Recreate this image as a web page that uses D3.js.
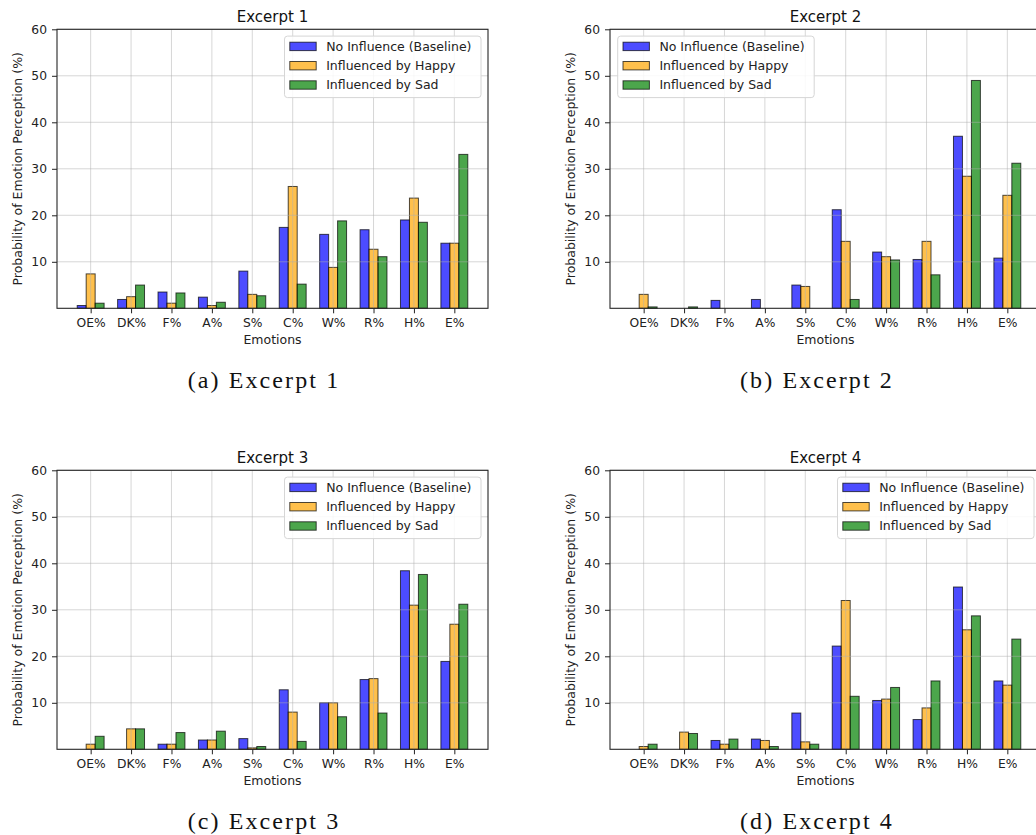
<!DOCTYPE html>
<html>
<head>
<meta charset="utf-8">
<script src="https://cdn.jsdelivr.net/npm/d3@7"></script>
<style>
  html, body { margin: 0; padding: 0; background: #fff; }
  svg { display: block; }
  .tick text { font-family: "DejaVu Sans", sans-serif; font-size: 12.3px; fill: #222; }
</style>
</head>
<body>
<svg id="fig" width="1036" height="835"></svg>
<script>
// Emotion categories on the x axis
const categories = ["OE%", "DK%", "F%", "A%", "S%", "C%", "W%", "R%", "H%", "E%"];
const seriesNames = ["No Influence (Baseline)", "Influenced by Happy", "Influenced by Sad"];
const yTicks = [10, 20, 30, 40, 50, 60];

// Excerpt 1
const ex1Baseline = [0.6, 1.9, 3.5, 2.4, 8.0, 17.4, 15.9, 16.9, 19.0, 14.0];
const ex1Happy    = [7.4, 2.5, 1.1, 0.6, 3.0, 26.2, 8.8, 12.7, 23.7, 14.0];
const ex1Sad      = [1.1, 5.0, 3.3, 1.3, 2.7, 5.2, 18.8, 11.1, 18.5, 33.1];

// Excerpt 2
const ex2Baseline = [0, 0, 1.7, 1.9, 5.0, 21.2, 12.1, 10.5, 37.0, 10.8];
const ex2Happy    = [3.0, 0, 0, 0, 4.7, 14.4, 11.1, 14.4, 28.4, 24.3];
const ex2Sad      = [0.3, 0.3, 0, 0, 0, 1.9, 10.4, 7.2, 49.0, 31.2];

// Excerpt 3
const ex3Baseline = [0, 0, 1.1, 2.0, 2.3, 12.8, 10.0, 15.0, 38.4, 18.9];
const ex3Happy    = [1.1, 4.4, 1.1, 2.0, 0.3, 8.0, 10.0, 15.2, 31.0, 26.9];
const ex3Sad      = [2.8, 4.4, 3.6, 3.9, 0.6, 1.7, 7.0, 7.8, 37.6, 31.2];

// Excerpt 4
const ex4Baseline = [0, 0, 1.9, 2.2, 7.8, 22.2, 10.5, 6.4, 34.9, 14.7];
const ex4Happy    = [0.6, 3.7, 1.1, 1.9, 1.6, 32.0, 10.8, 8.9, 25.7, 13.8];
const ex4Sad      = [1.1, 3.4, 2.2, 0.6, 1.1, 11.4, 13.3, 14.7, 28.7, 23.7];

const seriesColors = ["#0000ff", "#ffa500", "#008000"];

const panels = [
  { title: "Excerpt 1", caption: "(a) Excerpt 1", series: [ex1Baseline, ex1Happy, ex1Sad], left: 57,  top: 29.3,  legend: "right" },
  { title: "Excerpt 2", caption: "(b) Excerpt 2", series: [ex2Baseline, ex2Happy, ex2Sad], left: 610, top: 29.3,  legend: "left" },
  { title: "Excerpt 3", caption: "(c) Excerpt 3", series: [ex3Baseline, ex3Happy, ex3Sad], left: 57,  top: 470.3, legend: "right" },
  { title: "Excerpt 4", caption: "(d) Excerpt 4", series: [ex4Baseline, ex4Happy, ex4Sad], left: 610, top: 470.3, legend: "right" }
];

const plotW = 431, plotH = 279;
const barW = 0.222;
const font = '"DejaVu Sans", sans-serif';

const svg = d3.select("#fig");
svg.append("rect").attr("width", 1036).attr("height", 835).attr("fill", "#fff");

panels.forEach(p => {
  const g = svg.append("g").attr("transform", `translate(${p.left},${p.top})`);

  const x = d3.scaleLinear().domain([-0.833, categories.length - 1 + 0.833]).range([0, plotW]);
  const y = d3.scaleLinear().domain([0, 60]).range([plotH, 0]);

  // bars
  p.series.forEach((vals, s) => {
    g.append("g").selectAll("rect")
      .data(vals.map((v, i) => ({ v, i })).filter(d => d.v > 0))
      .join("rect")
      .attr("x", d => x(d.i + (s - 1) * barW - barW / 2))
      .attr("width", x(barW) - x(0))
      .attr("y", d => y(d.v))
      .attr("height", d => y(0) - y(d.v))
      .attr("fill", seriesColors[s])
      .attr("fill-opacity", 0.7)
      .attr("stroke", "#000")
      .attr("stroke-opacity", 0.7)
      .attr("stroke-width", 1);
  });

  // grid lines
  const grid = g.append("g").attr("stroke", "#b0b0b0").attr("stroke-opacity", 0.5).attr("stroke-width", 1);
  grid.selectAll("line.gx").data(d3.range(categories.length)).join("line")
    .attr("x1", d => x(d)).attr("x2", d => x(d)).attr("y1", 0).attr("y2", plotH);
  grid.selectAll("line.gy").data(yTicks).join("line")
    .attr("x1", 0).attr("x2", plotW).attr("y1", d => y(d)).attr("y2", d => y(d));

  // axes
  const yAxis = g.append("g")
    .call(d3.axisLeft(y).tickValues(yTicks).tickSize(5).tickPadding(5).tickFormat(d3.format("d")));
  const xAxis = g.append("g").attr("transform", `translate(0,${plotH})`)
    .call(d3.axisBottom(x).tickValues(d3.range(categories.length)).tickSize(5).tickPadding(4.5)
      .tickFormat(i => categories[i]));
  [yAxis, xAxis].forEach(a => {
    a.select(".domain").remove();
    a.selectAll(".tick line").attr("stroke", "#222");
    a.attr("font-family", null).attr("font-size", null);
  });

  // frame
  g.append("rect").attr("width", plotW).attr("height", plotH)
    .attr("fill", "none").attr("stroke", "#262626").attr("stroke-width", 1.1);

  // title and axis labels
  g.append("text").attr("x", plotW / 2).attr("y", -7.6).attr("text-anchor", "middle")
    .attr("font-family", font).attr("font-size", 15).attr("fill", "#111").text(p.title);
  g.append("text").attr("x", plotW / 2).attr("y", plotH + 36).attr("text-anchor", "middle")
    .attr("font-family", font).attr("font-size", 12.5).attr("fill", "#222").text("Emotions");
  g.append("text")
    .attr("transform", `translate(${-35.5},${plotH / 2}) rotate(-90)`)
    .attr("text-anchor", "middle")
    .attr("font-family", font).attr("font-size", 12.5).attr("fill", "#222")
    .text("Probability of Emotion Perception (%)");

  // legend
  const lw = 196.5, lh = 61.5;
  const lx = p.legend === "right" ? plotW - 7 - lw : 7.7;
  const lg = g.append("g").attr("transform", `translate(${lx},${6.8})`);
  lg.append("rect").attr("width", lw).attr("height", lh).attr("rx", 3)
    .attr("fill", "#fff").attr("fill-opacity", 0.85)
    .attr("stroke", "#d6d6d6").attr("stroke-width", 1);
  seriesNames.forEach((name, s) => {
    const cy = 10.3 + s * 19.3;
    lg.append("rect").attr("x", 5.3).attr("y", cy - 4.2).attr("width", 26.4).attr("height", 8.4)
      .attr("fill", seriesColors[s]).attr("fill-opacity", 0.7)
      .attr("stroke", "#000").attr("stroke-opacity", 0.7).attr("stroke-width", 1);
    lg.append("text").attr("x", 41.7).attr("y", cy + 4.5)
      .attr("font-family", font).attr("font-size", 12.5).attr("fill", "#222").text(name);
  });

  // sub-figure caption
  svg.append("text")
    .attr("x", p.left + plotW / 2 - 8.5)
    .attr("y", p.top + plotH + 80)
    .attr("text-anchor", "middle")
    .attr("font-family", '"Liberation Serif", serif')
    .attr("font-size", 24)
    .attr("letter-spacing", 2.1)
    .attr("fill", "#111")
    .text(p.caption);
});
</script>
</body>
</html>
